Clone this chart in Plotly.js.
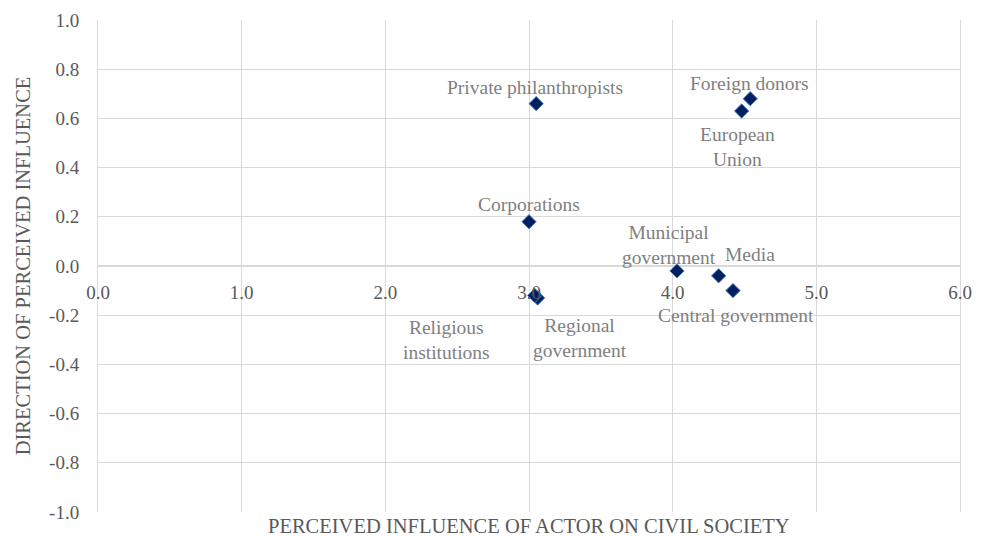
<!DOCTYPE html>
<html>
<head>
<meta charset="utf-8">
<script src="https://cdn.plot.ly/plotly-3.0.1.min.js"></script>
<style>html,body{margin:0;padding:0;background:#fff;}#chart{width:986px;height:536px;}</style>
</head>
<body>
<div id="chart"></div>
<script>
const actors = ["Private philanthropists","Foreign donors","European Union","Corporations","Municipal government","Media","Central government","Regional government","Religious institutions"];
const labelTexts = ["Private philanthropists","Foreign donors","European<br>Union","Corporations","Municipal<br>government","Media","Central government","Regional<br>government","Religious<br>institutions"];
const influence = [3.05, 4.54, 4.48, 3.00, 4.03, 4.32, 4.42, 3.06, 3.04];
const direction = [0.66, 0.68, 0.63, 0.18, -0.02, -0.04, -0.10, -0.13, -0.12];
const xTicks = [0,1,2,3,4,5,6];
const xTickLabels = ["0.0","1.0","2.0","3.0","4.0","5.0","6.0"];
const yTicks = [-1,-0.8,-0.6,-0.4,-0.2,0,0.2,0.4,0.6,0.8,1];
const yTickLabels = ["-1.0","-0.8","-0.6","-0.4","-0.2","0.0","0.2","0.4","0.6","0.8","1.0"];
// label offsets in pixels (styling)
const labelShiftX = [-1, -1, -4, 0, -8, 31, 3, 42, -88];
const labelShiftY = [16, 15, -36, 17, 26, 21, -25, -40, -44];

const font = "Liberation Serif";

const trace = {
  type: "scatter", mode: "markers",
  x: influence, y: direction, text: actors,
  marker: {symbol: "diamond", size: 11, color: "#002060", line: {color: "#4f81bd", width: 1}},
  hoverinfo: "text", showlegend: false
};

const annotations = actors.map((a, i) => ({
  x: influence[i], y: direction[i], xref: "x", yref: "y",
  text: labelTexts[i], showarrow: false,
  xshift: labelShiftX[i], yshift: labelShiftY[i],
  font: {family: font, size: 19.5, color: "#808080"}, align: "center"
}));
annotations.push({
  xref: "paper", yref: "paper", x: 0.5, y: 0, yshift: -14, yanchor: "middle",
  text: "PERCEIVED INFLUENCE OF ACTOR ON CIVIL SOCIETY", showarrow: false,
  font: {family: font, size: 20.5, color: "#595959"}
});

const layout = {
  width: 986, height: 536,
  margin: {l: 98, r: 26, t: 20, b: 24},
  paper_bgcolor: "#fff", plot_bgcolor: "#fff",
  font: {family: font, color: "#595959", size: 19},
  xaxis: {
    range: [0, 6], tickvals: xTicks, ticktext: xTickLabels,
    anchor: "free", position: 0.5,
    showgrid: true, gridcolor: "#d9d9d9", gridwidth: 1,
    zeroline: false, showline: false, ticks: "",
    ticklabelstandoff: 13,
    tickfont: {family: font, size: 19, color: "#595959"}
  },
  yaxis: {
    range: [-1, 1], tickvals: yTicks, ticktext: yTickLabels,
    showgrid: true, gridcolor: "#d9d9d9", gridwidth: 1,
    zeroline: true, zerolinecolor: "#d9d9d9", zerolinewidth: 1.5,
    showline: true, mirror: true, linecolor: "#d9d9d9", linewidth: 1,
    ticks: "", ticklabelstandoff: 14,
    tickfont: {family: font, size: 19, color: "#595959"},
    title: {text: "DIRECTION OF PERCEIVED INFLUENCE", standoff: 12, font: {family: font, size: 20.5, color: "#595959"}}
  },
  annotations: annotations
};

Plotly.newPlot("chart", [trace], layout, {displayModeBar: false, staticPlot: true});
</script>
</body>
</html>
